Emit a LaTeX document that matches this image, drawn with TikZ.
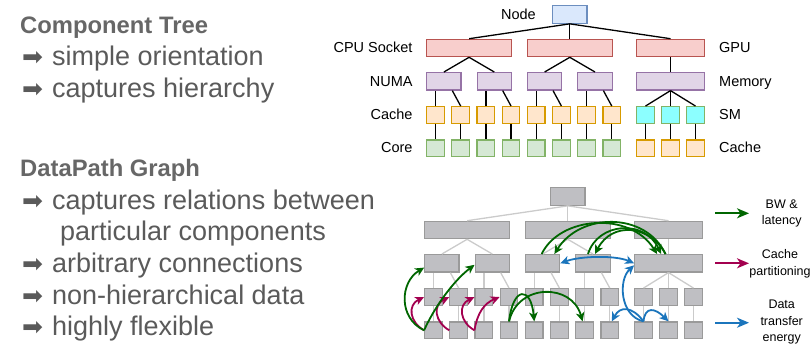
\documentclass[tikz,border=0pt]{standalone}
\usepackage{fontspec}
\setmainfont{Liberation Sans}
\newfontfamily\dingfont{DejaVu Sans}
\usetikzlibrary{arrows.meta,calc}

% box colours (fill / border)
\definecolor{nodeF}{HTML}{DAE8FC}\definecolor{nodeD}{HTML}{6C8EBF}
\definecolor{sockF}{HTML}{F8CECC}\definecolor{sockD}{HTML}{B85450}
\definecolor{numaF}{HTML}{E1D5E7}\definecolor{numaD}{HTML}{9673A6}
\definecolor{cacheF}{HTML}{FFE6CC}\definecolor{cacheD}{HTML}{D79B00}
\definecolor{coreF}{HTML}{D5E8D4}\definecolor{coreD}{HTML}{82B366}
\definecolor{smF}{HTML}{8CFFFF}
\definecolor{greyF}{HTML}{BFBFC3}\definecolor{greyD}{HTML}{9A9A9A}
\definecolor{greyE}{HTML}{CBCBCB}
% relation colours
\definecolor{bwC}{HTML}{006600}
\definecolor{cpC}{HTML}{A3004F}
\definecolor{dtC}{HTML}{1B75BC}
% text colours
\definecolor{headC}{HTML}{676767}
\definecolor{bodyC}{HTML}{5A5A5A}

\tikzset{
  boxpaint/.style 2 args={fill=#1, draw=#2},
  hwbox/.style={rectangle, inner sep=0pt, line width=1.2pt},
  nodebox/.style={hwbox, boxpaint={nodeF}{nodeD}, minimum width=34.4pt, minimum height=17.5pt},
  sockbox/.style={hwbox, boxpaint={sockF}{sockD}, minimum width=84.7pt, minimum height=17.4pt},
  gpubox/.style={hwbox, boxpaint={sockF}{sockD}, minimum width=67.6pt, minimum height=17.4pt},
  numabox/.style={hwbox, boxpaint={numaF}{numaD}, minimum width=34.3pt, minimum height=17.4pt},
  membox/.style={hwbox, boxpaint={numaF}{numaD}, minimum width=67.6pt, minimum height=17.4pt},
  cachebox/.style={hwbox, boxpaint={cacheF}{cacheD}, minimum width=17.6pt, minimum height=16.7pt},
  corebox/.style={hwbox, boxpaint={coreF}{coreD}, minimum width=17.6pt, minimum height=16.7pt},
  smbox/.style={hwbox, boxpaint={smF}{coreD}, minimum width=17.6pt, minimum height=16.7pt},
  gcbox/.style={hwbox, boxpaint={cacheF}{cacheD}, minimum width=17.6pt, minimum height=16.7pt},
  treeedge/.style={draw=black, line width=1.3pt},
  lbl/.style={inner sep=0pt, font=\fontsize{14.5}{17}\selectfont},
  txt/.style={inner sep=0pt, anchor=base west, text=bodyC, font=\fontsize{27}{30}\selectfont},
  ttl/.style={inner sep=0pt, anchor=base west, text=headC, font=\fontsize{23.8}{30}\selectfont\bfseries},
  bullet/.style={inner sep=0pt, anchor=base west, text=bodyC, font=\dingfont\fontsize{25}{30}\selectfont},
  rel/.style={line width=1.8pt, >={Stealth[length=9pt,width=8.5pt,inset=2.5pt]}},
  bwarr/.style={rel, draw=bwC},
  cparr/.style={rel, draw=cpC},
  dtarr/.style={rel, draw=dtC},
  keyarr/.style={line width=1.8pt, -{Stealth[length=12pt,width=10pt,inset=3.5pt]}},
  keytxt/.style={inner sep=0pt, align=center, font=\fontsize{12.5}{16.5}\selectfont},
}

% hardware hierarchy; #1 is the prefix of every node name
\newcommand\hwtree[1]{%
  \node[nodebox] (#1node) at (569.8,14.5) {};
  \node[sockbox] (#1s1) at (469.1,48) {};
  \node[sockbox] (#1s2) at (569.8,48) {};
  \node[gpubox] (#1gpu) at (670.5,48) {};
  \node[membox] (#1mem) at (670.5,81.3) {};
  \foreach \q in {1,...,4}{%
    \pgfmathsetmacro\nx{443.9+50.36*(\q-1)}%
    \node[numabox] (#1n\q) at (\nx,81.3) {};
  }
  \foreach \q in {1,...,8}{%
    \pgfmathsetmacro\cx{435.5+25.18*(\q-1)}%
    \node[cachebox] (#1c\q) at (\cx,115) {};
    \node[corebox] (#1k\q) at (\cx,148.3) {};
  }
  \foreach \q/\xx in {1/645.5,2/670.5,3/695.5}{%
    \node[smbox] (#1sm\q) at (\xx,115) {};
    \node[gcbox] (#1gc\q) at (\xx,148.3) {};
  }
  \draw[treeedge] (#1node.south) -- (#1s1.north);
  \draw[treeedge] (#1node.south) -- (#1s2.north);
  \draw[treeedge] (#1node.south) -- (#1gpu.north);
  \foreach \q/\a/\b in {1/1/2,2/3/4}{%
    \draw[treeedge] (#1s\q.south) -- (#1n\a.north);
    \draw[treeedge] (#1s\q.south) -- (#1n\b.north);
  }
  \draw[treeedge] (#1gpu) -- (#1mem);
  \foreach \q/\a/\b in {1/1/2,2/3/4,3/5/6,4/7/8}{%
    \draw[treeedge] (#1c\a.north) -- (#1c\a.north |- #1n\q.south);
    \draw[treeedge] ($(#1n\q.south)+(8.4,0)$) -- (#1c\b.north);
  }
  \foreach \q in {1,...,8}{\draw[treeedge] (#1c\q) -- (#1k\q);}
  \foreach \q in {1,2,3}{%
    \draw[treeedge] (#1mem.south) -- (#1sm\q.north);
    \draw[treeedge] (#1sm\q) -- (#1gc\q);
  }
}

\begin{document}
\begin{tikzpicture}[x=1pt, y=-1pt]
\useasboundingbox (0,0) rectangle (810,349);

% ---------- left column text ----------
\node[ttl] (h1) at (20,33) {Component Tree};
\node[bullet] (b1) at (22,65.5) {➡};
\node[txt] (t1) at (52,65.5) {simple orientation};
\node[bullet] (b2) at (22,97) {➡};
\node[txt] (t2) at (52,97) {captures hierarchy};

\node[ttl] (h2) at (20,176.5) {DataPath Graph};
\node[bullet] (b3) at (22,209) {➡};
\node[txt] (t3) at (52,209) {captures relations between};
\node[txt] (t4) at (60,240.5) {particular components};
\node[bullet] (b4) at (22,272) {➡};
\node[txt] (t5) at (52,272) {arbitrary connections};
\node[bullet] (b5) at (22,304) {➡};
\node[txt] (t6) at (52,304) {non-hierarchical data};
\node[bullet] (b6) at (22,335.5) {➡};
\node[txt] (t7) at (52,335.5) {highly flexible};

% ---------- component tree ----------
\hwtree{u}
\node[lbl, anchor=base east] (lnode) at (536,19.3) {Node};
\node[lbl, anchor=base east] (lsock) at (412.7,52.8) {CPU Socket};
\node[lbl, anchor=base east] (lnuma) at (412.7,86) {NUMA};
\node[lbl, anchor=base east] (lcache) at (412.7,119.5) {Cache};
\node[lbl, anchor=base east] (lcore) at (412.7,152.8) {Core};
\node[lbl, anchor=base west] (lgpu) at (719,52.8) {GPU};
\node[lbl, anchor=base west] (lmem) at (719,86) {Memory};
\node[lbl, anchor=base west] (lsm) at (719,119.5) {SM};
\node[lbl, anchor=base west] (lgc) at (719,152.8) {Cache};

% ---------- datapath graph ----------
\begin{scope}[shift={(-2,182)},
  boxpaint/.style 2 args={fill=greyF, draw=greyD},
  treeedge/.style={draw=greyE, line width=1.3pt}]
\hwtree{d}
\end{scope}

% cache partitioning
\foreach \q/\r in {1/1,2/2,3/3}{%
  \draw[cparr,->] (dk\q.west) .. controls ($(dk\q.west)+(-14.7,-8.3)$) and ($(dk\q.west)+(-16.7,-25.3)$) .. (dc\r.west);
}
\draw[cparr,->] (dk3.west) .. controls ($(dk3.west)+(3,-18)$) and ($(dk3.west)+(10,-27)$) .. (dc4.west);

% bandwidth and latency
\draw[bwarr,->] (dk1.west) .. controls (398,318) and (400,282) .. ($(dn1.south west)+(0,-5)$);
\draw[bwarr,->] (dk1.west) .. controls (433,310) and (452,282) .. ($(dn2.west)+(0,1.5)$);
\draw[bwarr,->] (dk4.north) .. controls (513,286) and (531,286) .. (dk5.north);
\draw[bwarr,->] (dk4.north) .. controls (518,283) and (572,283) .. ($(dk7.north)+(-2,0)$);
\draw[bwarr,->] ($(dn3.north)+(-1,0)$) .. controls (560,216) and (630,211) .. ($(dmem.north west)+(23,0)$);
\draw[bwarr,->] ($(dn4.north)+(-5,0)$) .. controls (598,222) and (645,219) .. ($(dmem.north west)+(27,0)$);
\draw[bwarr,->] ($(dmem.north)+(-3,0)$) .. controls (645,211) and (580,213) .. ($(dn3.north east)+(-6,0)$);
\draw[bwarr,->] ($(dmem.north)+(-3,0)$) .. controls (650,225) and (612,221) .. ($(dn4.north)+(2,0)$);

% data transfer energy
\draw[dtarr,<->] (dmem.west) .. controls (615,255) and (580,256) .. (dn3.east);
\draw[dtarr,->] (dgc1.north) .. controls (620,316) and (618,280) .. ($(dmem.west)+(0,2)$);
\draw[dtarr,->] (dgc1.north) .. controls (632,306) and (620,306) .. ($(dk8.north)+(2,0)$);
\draw[dtarr,->] (dgc1.north) .. controls (645,306) and (655,308) .. (dgc2.north);

% ---------- key ----------
\coordinate (k1a) at (715,213.3); \coordinate (k1b) at (749,213.3);
\coordinate (k2a) at (715,263.3); \coordinate (k2b) at (749,263.3);
\coordinate (k3a) at (715,322.7); \coordinate (k3b) at (749,322.7);
\draw[keyarr, draw=bwC] (k1a) -- (k1b);
\draw[keyarr, draw=cpC] (k2a) -- (k2b);
\draw[keyarr, draw=dtC] (k3a) -- (k3b);
\node[keytxt] (key1) at (781.7,213.3) {BW \&\\latency};
\node[keytxt] (key2) at (780,264) {Cache\\partitioning};
\node[keytxt] (key3) at (781.7,322) {Data\\transfer\\energy};
\end{tikzpicture}
\end{document}
